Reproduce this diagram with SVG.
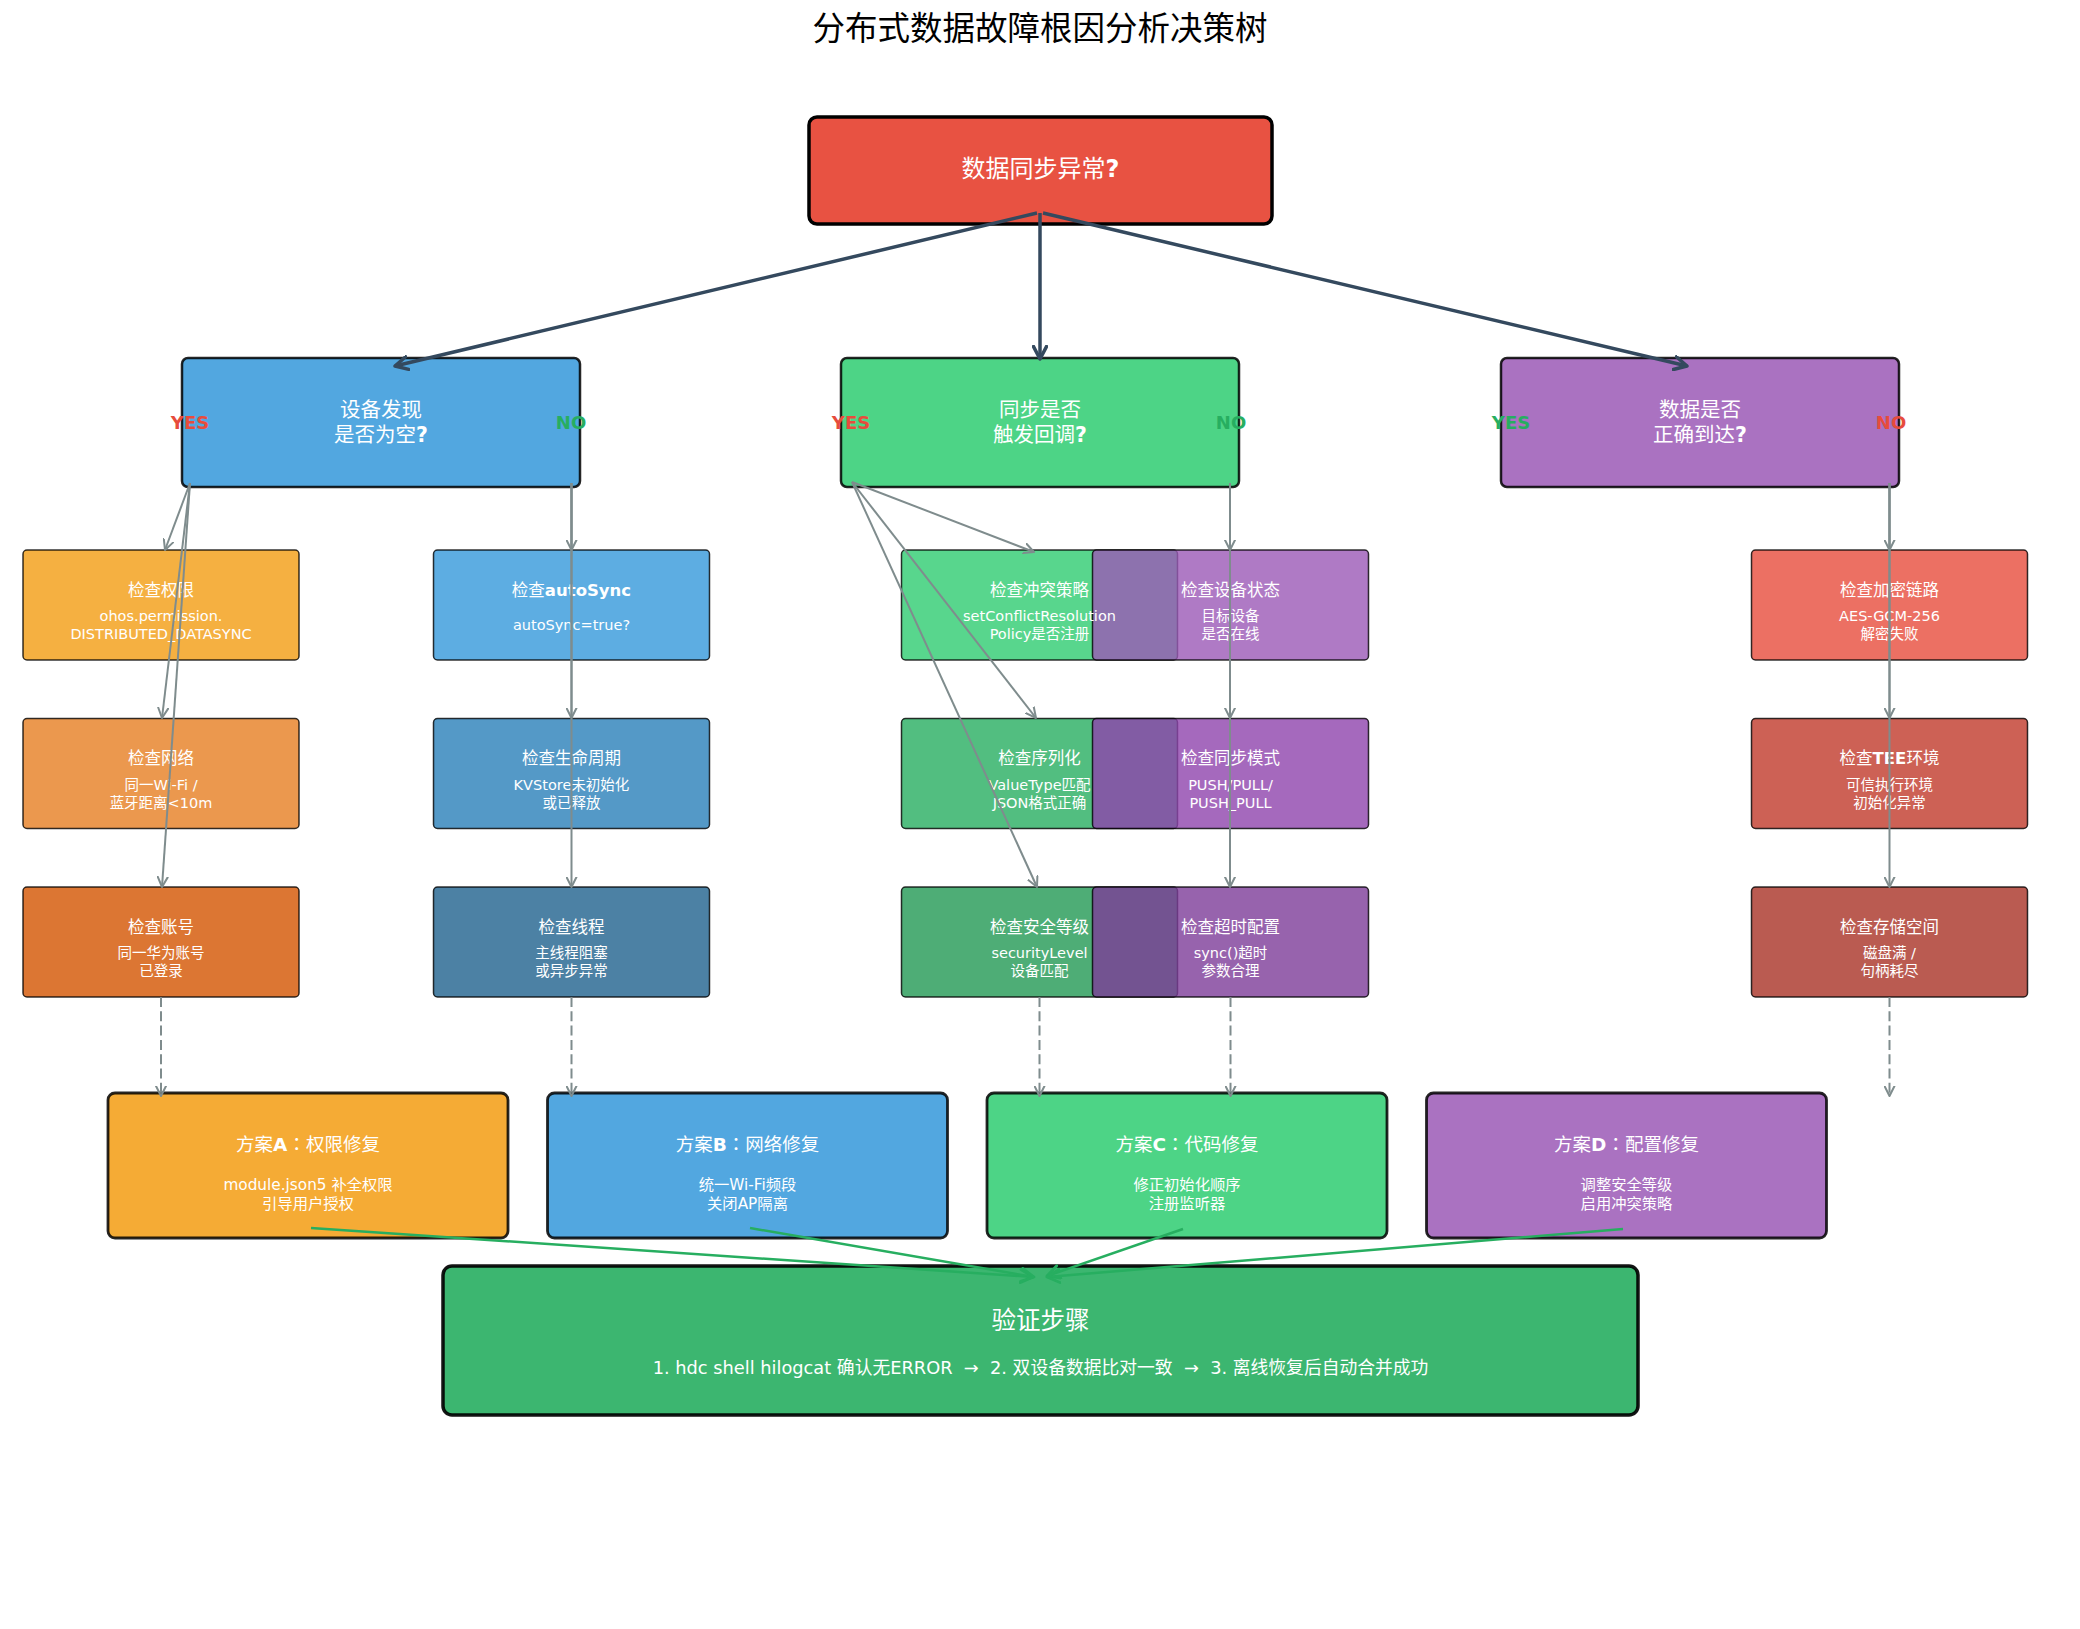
<svg xmlns="http://www.w3.org/2000/svg" width="2080" height="1629" viewBox="0 0 2080 1629">
<style>
text{font-family:'DejaVu Sans','Noto Sans CJK SC',sans-serif;text-anchor:middle;fill:#fff}
.title{font-size:32.5px;fill:#000}
.root{font-size:24px}
.l2t{font-size:20.5px}
.yn{font-size:18px;font-weight:bold}
.l3t{font-size:16.5px}
.l3s{font-size:14.5px}
.st{font-size:18.5px}
.ss{font-size:15.3px}
.vt{font-size:24.5px}
.vs{font-size:17.8px}
.b{font-weight:bold}
.cn{font-family:'Noto Sans CJK TC','Noto Sans CJK SC',sans-serif}
.l3{fill-opacity:.8;stroke:#000;stroke-opacity:.8;stroke-width:1.5}
.l2{fill-opacity:.85;stroke:#000;stroke-opacity:.85;stroke-width:2.5}
.sol{fill-opacity:.85;stroke:#000;stroke-opacity:.85;stroke-width:2.8}
.gray{stroke:#7f8c8d;stroke-width:2;fill:none}
.dash{stroke:#7f8c8d;stroke-width:2;fill:none;stroke-dasharray:10 4.3}
.main{stroke:#34495e;stroke-width:3.5;fill:none}
.grn{stroke:#27ae60;stroke-width:2.5;fill:none}
</style>
<defs>
<marker id="mg" viewBox="0 0 12 12" refX="10.5" refY="6" markerWidth="12" markerHeight="12" markerUnits="userSpaceOnUse" orient="auto">
<path d="M0.5,1 L10.5,6 L0.5,11" fill="none" stroke="#7f8c8d" stroke-width="2" stroke-linecap="round" stroke-linejoin="round"/>
</marker>
<marker id="mm" viewBox="0 0 16 16" refX="14" refY="8" markerWidth="16" markerHeight="16" markerUnits="userSpaceOnUse" orient="auto">
<path d="M1.5,1.5 L14,8 L1.5,14.5" fill="none" stroke="#34495e" stroke-width="3.5" stroke-linecap="round" stroke-linejoin="round"/>
</marker>
<marker id="mr" viewBox="0 0 16 16" refX="14" refY="8" markerWidth="16" markerHeight="16" markerUnits="userSpaceOnUse" orient="auto">
<path d="M1.5,1.5 L14,8 L1.5,14.5" fill="none" stroke="#27ae60" stroke-width="2.8" stroke-linecap="round" stroke-linejoin="round"/>
</marker>
</defs>
<rect width="2080" height="1629" fill="#fff"/>
<text class="title" x="1040" y="39.7">分布式数据故障根因分析决策树</text>

<g id="root">
<rect x="809" y="117" width="463" height="107" rx="8" fill="#e74c3c" fill-opacity=".97" stroke="#000" stroke-width="3.5"/>
<text class="root" x="1040.5" y="177.1">数据同步异常<tspan class="b">?</tspan></text>
</g>

<g id="q-discovery">
<rect class="l2" x="182" y="358" width="398" height="129" rx="6" fill="#3498db"/>
<text class="l2t" x="381" y="416.9">设备发现</text>
<text class="l2t" x="381" y="441.9">是否为空<tspan class="b">?</tspan></text>
<text class="yn" x="190" y="429" style="fill:#e74c3c">YES</text>
<text class="yn" x="571" y="429" style="fill:#27ae60">NO</text>
</g>
<g id="q-callback">
<rect class="l2" x="841" y="358" width="398" height="129" rx="6" fill="#2ecc71"/>
<text class="l2t" x="1040" y="416.9">同步是否</text>
<text class="l2t" x="1040" y="441.9">触发回调<tspan class="b">?</tspan></text>
<text class="yn" x="851" y="429" style="fill:#e74c3c">YES</text>
<text class="yn" x="1231" y="429" style="fill:#27ae60">NO</text>
</g>
<g id="q-arrival">
<rect class="l2" x="1501" y="358" width="398" height="129" rx="6" fill="#9b59b6"/>
<text class="l2t" x="1700" y="416.9">数据是否</text>
<text class="l2t" x="1700" y="441.9">正确到达<tspan class="b">?</tspan></text>
<text class="yn" x="1511" y="429" style="fill:#27ae60">YES</text>
<text class="yn" x="1891" y="429" style="fill:#e74c3c">NO</text>
</g>

<!-- orange column -->
<g id="c-permission">
<rect class="l3" x="23" y="550" width="276" height="110" rx="4" fill="#f39c12"/>
<text class="l3t" x="161" y="595.9">检查权限</text>
<text class="l3s" x="161" y="621">ohos.permission.</text>
<text class="l3s" x="161" y="639">DISTRIBUTED_DATASYNC</text>
</g>
<g id="c-network">
<rect class="l3" x="23" y="718.5" width="276" height="110" rx="4" fill="#e67e22"/>
<text class="l3t" x="161" y="764.4">检查网络</text>
<text class="l3s" x="161" y="789.5" xml:space="preserve">同一Wi-Fi /</text>
<text class="l3s" x="161" y="807.5">蓝牙距离&lt;10m</text>
</g>
<g id="c-account">
<rect class="l3" x="23" y="887" width="276" height="110" rx="4" fill="#d35400"/>
<text class="l3t" x="161" y="932.9">检查账号</text>
<text class="l3s" x="161" y="958">同一华为账号</text>
<text class="l3s" x="161" y="976">已登录</text>
</g>

<!-- blue column -->
<g id="c-autosync">
<rect class="l3" x="433.5" y="550" width="276" height="110" rx="4" fill="#3498db"/>
<text class="l3t" x="571.5" y="595.9">检查<tspan class="b">autoSync</tspan></text>
<text class="l3s" x="571.5" y="630">autoSync=true?</text>
</g>
<g id="c-lifecycle">
<rect class="l3" x="433.5" y="718.5" width="276" height="110" rx="4" fill="#2980b9"/>
<text class="l3t" x="571.5" y="764.4">检查生命周期</text>
<text class="l3s" x="571.5" y="789.5">KVStore未初始化</text>
<text class="l3s" x="571.5" y="807.5">或已释放</text>
</g>
<g id="c-thread">
<rect class="l3" x="433.5" y="887" width="276" height="110" rx="4" fill="#1f618d"/>
<text class="l3t" x="571.5" y="932.9">检查线程</text>
<text class="l3s" x="571.5" y="958">主线程阻塞</text>
<text class="l3s" x="571.5" y="976">或异步异常</text>
</g>

<!-- green column -->
<g id="c-conflict">
<rect class="l3" x="901.5" y="550" width="276" height="110" rx="4" fill="#2ecc71"/>
</g>
<g id="c-serialize">
<rect class="l3" x="901.5" y="718.5" width="276" height="110" rx="4" fill="#27ae60"/>
</g>
<g id="c-security">
<rect class="l3" x="901.5" y="887" width="276" height="110" rx="4" fill="#229954"/>
</g>

<!-- purple column -->
<g id="c-device">
<rect class="l3" x="1092.5" y="550" width="276" height="110" rx="4" fill="#9b59b6"/>
<text class="l3t" x="1230.5" y="595.9">检查设备状态</text>
<text class="l3s" x="1230.5" y="621">目标设备</text>
<text class="l3s" x="1230.5" y="639">是否在线</text>
</g>
<g id="c-mode">
<rect class="l3" x="1092.5" y="718.5" width="276" height="110" rx="4" fill="#8e44ad"/>
<text class="l3t" x="1230.5" y="764.4">检查同步模式</text>
<text class="l3s" x="1230.5" y="789.5">PUSH/PULL/</text>
<text class="l3s" x="1230.5" y="807.5">PUSH_PULL</text>
</g>
<g id="c-timeout">
<rect class="l3" x="1092.5" y="887" width="276" height="110" rx="4" fill="#7d3c98"/>
<text class="l3t" x="1230.5" y="932.9">检查超时配置</text>
<text class="l3s" x="1230.5" y="958">sync()超时</text>
<text class="l3s" x="1230.5" y="976">参数合理</text>
</g>

<!-- green column texts (drawn above the overlapping purple boxes) -->
<g id="c-conflict-text">
<text class="l3t" x="1039.5" y="595.9">检查冲突策略</text>
<text class="l3s" x="1039.5" y="621">setConflictResolution</text>
<text class="l3s" x="1039.5" y="639">Policy是否注册</text>
</g>
<g id="c-serialize-text">
<text class="l3t" x="1039.5" y="764.4">检查序列化</text>
<text class="l3s" x="1039.5" y="789.5">ValueType匹配</text>
<text class="l3s" x="1039.5" y="807.5">JSON格式正确</text>
</g>
<g id="c-security-text">
<text class="l3t" x="1039.5" y="932.9">检查安全等级</text>
<text class="l3s" x="1039.5" y="958">securityLevel</text>
<text class="l3s" x="1039.5" y="976">设备匹配</text>
</g>

<!-- red column -->
<g id="c-crypto">
<rect class="l3" x="1751.5" y="550" width="276" height="110" rx="4" fill="#e74c3c"/>
<text class="l3t" x="1889.5" y="595.9">检查加密链路</text>
<text class="l3s" x="1889.5" y="621">AES-GCM-256</text>
<text class="l3s" x="1889.5" y="639">解密失败</text>
</g>
<g id="c-tee">
<rect class="l3" x="1751.5" y="718.5" width="276" height="110" rx="4" fill="#c0392b"/>
<text class="l3t" x="1889.5" y="764.4">检查<tspan class="b">TEE</tspan>环境</text>
<text class="l3s" x="1889.5" y="789.5">可信执行环境</text>
<text class="l3s" x="1889.5" y="807.5">初始化异常</text>
</g>
<g id="c-storage">
<rect class="l3" x="1751.5" y="887" width="276" height="110" rx="4" fill="#a93226"/>
<text class="l3t" x="1889.5" y="932.9">检查存储空间</text>
<text class="l3s" x="1889.5" y="958" xml:space="preserve">磁盘满 /</text>
<text class="l3s" x="1889.5" y="976">句柄耗尽</text>
</g>

<!-- solutions -->
<g id="s-a">
<rect class="sol" x="108" y="1093" width="400" height="145" rx="7" fill="#f39c12"/>
<text class="st" x="308" y="1150.7">方案<tspan class="b">A</tspan><tspan class="cn">：</tspan>权限修复</text>
<text class="ss" x="308" y="1190" xml:space="preserve">module.json5 补全权限</text>
<text class="ss" x="308" y="1208.5">引导用户授权</text>
</g>
<g id="s-b">
<rect class="sol" x="547.5" y="1093" width="400" height="145" rx="7" fill="#3498db"/>
<text class="st" x="747.5" y="1150.7">方案<tspan class="b">B</tspan><tspan class="cn">：</tspan>网络修复</text>
<text class="ss" x="747.5" y="1190">统一Wi-Fi频段</text>
<text class="ss" x="747.5" y="1208.5">关闭AP隔离</text>
</g>
<g id="s-c">
<rect class="sol" x="987" y="1093" width="400" height="145" rx="7" fill="#2ecc71"/>
<text class="st" x="1187" y="1150.7">方案<tspan class="b">C</tspan><tspan class="cn">：</tspan>代码修复</text>
<text class="ss" x="1187" y="1190">修正初始化顺序</text>
<text class="ss" x="1187" y="1208.5">注册监听器</text>
</g>
<g id="s-d">
<rect class="sol" x="1426.5" y="1093" width="400" height="145" rx="7" fill="#9b59b6"/>
<text class="st" x="1626.5" y="1150.7">方案<tspan class="b">D</tspan><tspan class="cn">：</tspan>配置修复</text>
<text class="ss" x="1626.5" y="1190">调整安全等级</text>
<text class="ss" x="1626.5" y="1208.5">启用冲突策略</text>
</g>

<g id="verify">
<rect x="443" y="1266" width="1195" height="149" rx="9" fill="#27ae60" fill-opacity=".9" stroke="#000" stroke-opacity=".92" stroke-width="3.5"/>
<text class="vt" x="1040.5" y="1328.8">验证步骤</text>
<text class="vs" x="1040.5" y="1374.3" xml:space="preserve">1. hdc shell hilogcat 确认无ERROR  →  2. 双设备数据比对一致  →  3. 离线恢复后自动合并成功</text>
</g>

<g id="connectors">
<line class="main" x1="1037" y1="213" x2="395" y2="366" marker-end="url(#mm)"/>
<line class="main" x1="1040" y1="213" x2="1040" y2="359" marker-end="url(#mm)"/>
<line class="main" x1="1043" y1="213" x2="1687" y2="366" marker-end="url(#mm)"/>

<line class="gray" x1="190" y1="483" x2="165" y2="550" marker-end="url(#mg)"/>
<line class="gray" x1="190" y1="483" x2="162" y2="718" marker-end="url(#mg)"/>
<line class="gray" x1="190" y1="483" x2="162" y2="887" marker-end="url(#mg)"/>

<line class="gray" x1="571.5" y1="483" x2="571.5" y2="550" marker-end="url(#mg)"/>
<line class="gray" x1="571.5" y1="483" x2="571.5" y2="718" marker-end="url(#mg)"/>
<line class="gray" x1="571.5" y1="483" x2="571.5" y2="887" marker-end="url(#mg)"/>

<line class="gray" x1="852" y1="482" x2="1034" y2="552" marker-end="url(#mg)"/>
<line class="gray" x1="852" y1="482" x2="1036" y2="718" marker-end="url(#mg)"/>
<line class="gray" x1="852" y1="482" x2="1037" y2="887" marker-end="url(#mg)"/>

<line class="gray" x1="1230" y1="483" x2="1230" y2="550" marker-end="url(#mg)"/>
<line class="gray" x1="1230" y1="483" x2="1230" y2="718" marker-end="url(#mg)"/>
<line class="gray" x1="1230" y1="483" x2="1230" y2="887" marker-end="url(#mg)"/>

<line class="gray" x1="1889.5" y1="483" x2="1889.5" y2="550" marker-end="url(#mg)"/>
<line class="gray" x1="1889.5" y1="483" x2="1889.5" y2="718" marker-end="url(#mg)"/>
<line class="gray" x1="1889.5" y1="483" x2="1889.5" y2="887" marker-end="url(#mg)"/>

<line class="dash" x1="161" y1="997" x2="161" y2="1096" marker-end="url(#mg)"/>
<line class="dash" x1="571.5" y1="997" x2="571.5" y2="1096" marker-end="url(#mg)"/>
<line class="dash" x1="1039.5" y1="997" x2="1039.5" y2="1096" marker-end="url(#mg)"/>
<line class="dash" x1="1230.5" y1="997" x2="1230.5" y2="1096" marker-end="url(#mg)"/>
<line class="dash" x1="1889.5" y1="997" x2="1889.5" y2="1096" marker-end="url(#mg)"/>

<line class="grn" x1="311" y1="1228" x2="1033" y2="1277" marker-end="url(#mr)"/>
<line class="grn" x1="750" y1="1228" x2="1034" y2="1277" marker-end="url(#mr)"/>
<line class="grn" x1="1183" y1="1229" x2="1047" y2="1276" marker-end="url(#mr)"/>
<line class="grn" x1="1623" y1="1229" x2="1047" y2="1277" marker-end="url(#mr)"/>
</g>
</svg>
